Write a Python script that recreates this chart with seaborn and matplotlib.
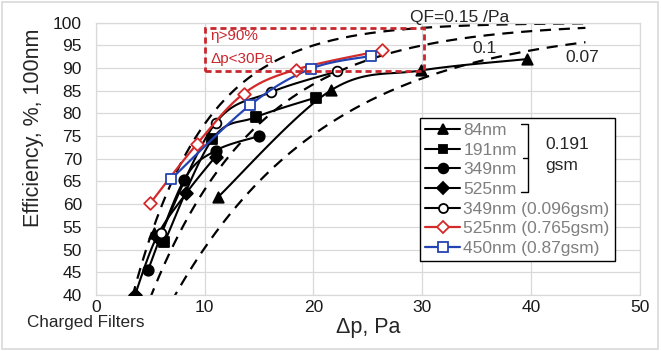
import numpy as np
import matplotlib
matplotlib.use("Agg")
import matplotlib.pyplot as plt
import seaborn as sns
from matplotlib.lines import Line2D
from matplotlib.patches import Rectangle

# iso-quality-factor lines, QF = -ln(1 - eff) / dp
qf_values = [0.15, 0.1, 0.07]
qf_labels = ["QF=0.15 /Pa", "0.1", "0.07"]
qf_dp_max = 45

# measured filters, dp in Pa, efficiency in %
dp_84 = [5.3, np.nan, 11.2, 21.6, 29.9, 39.6]
eff_84 = [53.6, np.nan, 61.5, 85.1, 89.5, 92.0]

dp_191 = [6.3, 10.7, 14.7, 20.2]
eff_191 = [51.6, 74.3, 79.2, 83.5]

dp_349 = [4.8, 8.1, 11.0, 15.0]
eff_349 = [45.5, 65.3, 71.8, 75.0]

dp_525 = [3.6, 5.6, 8.3, 11.0]
eff_525 = [40.0, 52.8, 62.4, 70.5]

dp_349b = [6.0, 11.0, 16.1, 22.2]
eff_349b = [53.6, 77.9, 84.7, 89.3]

dp_525b = [5.0, 9.3, 13.6, 18.4, 26.3]
eff_525b = [60.2, 73.3, 84.4, 89.7, 93.9]

dp_450 = [6.9, 14.2, 19.8, 25.3]
eff_450 = [65.5, 81.9, 89.9, 92.7]

series_names = ["84nm", "191nm", "349nm", "525nm",
                "349nm (0.096gsm)", "525nm (0.765gsm)", "450nm (0.87gsm)"]

RED = "#d42a2a"
BLUE = "#2443b3"
styles = [
    (dp_84, eff_84, "black", "^", 7.5, True),
    (dp_191, eff_191, "black", "s", 6.5, True),
    (dp_349, eff_349, "black", "o", 7.5, True),
    (dp_525, eff_525, "black", "D", 6.5, True),
    (dp_349b, eff_349b, "black", "o", 7, False),
    (dp_525b, eff_525b, RED, "D", 6.5, False),
    (dp_450, eff_450, BLUE, "s", 7, False),
]


def smooth(x, y, n=24):
    # excel style smoothed line, one array pair per unbroken run
    x = np.asarray(x, float)
    y = np.asarray(y, float)
    runs, cur = [], []
    for xi, yi in zip(x, y):
        if np.isnan(xi):
            if cur:
                runs.append(cur)
            cur = []
        else:
            cur.append(np.array([xi, yi]))
    if cur:
        runs.append(cur)
    out = []
    t = np.linspace(0, 1, n)[:, None]
    for P in runs:
        if len(P) < 2:
            continue
        pts = []
        for i in range(len(P) - 1):
            p0 = P[i - 1] if i > 0 else P[i]
            p1, p2 = P[i], P[i + 1]
            p3 = P[i + 2] if i + 2 < len(P) else P[i + 1]
            c1 = p1 + (p2 - p0) / 6
            c2 = p2 - (p3 - p1) / 6
            b = ((1 - t) ** 3 * p1 + 3 * (1 - t) ** 2 * t * c1
                 + 3 * (1 - t) * t ** 2 * c2 + t ** 3 * p2)
            pts.append(b)
        pts = np.vstack(pts)
        out.append((pts[:, 0], pts[:, 1]))
    return out


sns.set_theme(style="white")
plt.rcParams["font.family"] = ["Liberation Sans", "DejaVu Sans"]

fig, ax = plt.subplots(figsize=(6.61, 3.51), dpi=100)
fig.subplots_adjust(left=0.145, right=0.968, bottom=0.16, top=0.935)

# QF dashed curves
dp_grid = np.linspace(0.5, qf_dp_max, 300)
for qf in qf_values:
    eff_curve = 100 * (1 - np.exp(-qf * dp_grid))
    sns.lineplot(x=dp_grid, y=eff_curve, ax=ax, color="black", lw=1.6,
                 sort=False, estimator=None, zorder=2,
                 dashes=False, linestyle=(0, (5, 3.5)))

handles = []
for (xs, ys, c, m, ms, filled), name in zip(styles, series_names):
    lw = 1.6 if c != "black" else 1.5
    z = 4 if c != "black" else 3
    for sx, sy in smooth(xs, ys):
        sns.lineplot(x=sx, y=sy, ax=ax, color=c, lw=lw, sort=False,
                     estimator=None, zorder=z)
    fc = c if filled else "white"
    sns.scatterplot(x=xs, y=ys, ax=ax, marker=m, s=ms ** 2, color=fc,
                    edgecolor=c, linewidth=1.3, zorder=z + 0.5)
    handles.append(Line2D([], [], color=c, lw=lw, marker=m, ms=ms - 0.5,
                          mfc=fc, mec=c, mew=1.3))

# target region box
ax.add_patch(Rectangle((10, 89.3), 20.2, 9.5, fill=False, edgecolor="#c8282d",
                       lw=2, linestyle=(0, (2.2, 1.4)), zorder=5, clip_on=False))
ax.text(10.5, 97.0, "η>90%", color="#c8282d", fontsize=11, va="center", ha="left")
ax.text(10.5, 92.0, "Δp<30Pa", color="#c8282d", fontsize=11, va="center", ha="left")

# QF labels
ax.text(33.4, 101.2, qf_labels[0], fontsize=12.5, ha="center", va="center", clip_on=False)
ax.text(35.7, 94.4, qf_labels[1], fontsize=12.5, ha="center", va="center")
ax.text(44.7, 92.3, qf_labels[2], fontsize=12.5, ha="center", va="center")

ax.set_xlim(0, 50)
ax.set_ylim(40, 100)
ax.set_xticks(np.arange(0, 51, 10))
ax.set_yticks(np.arange(40, 101, 5))
ax.grid(True, color="#d9d9d9", lw=0.9)
for sp in ax.spines.values():
    sp.set_color("#d9d9d9")
    sp.set_linewidth(0.9)
ax.tick_params(axis="both", length=0, labelsize=12.5, labelcolor="#1a1a1a")
ax.tick_params(axis="x", pad=4)
ax.tick_params(axis="y", pad=10)

ax.set_xlabel("Δp, Pa", fontsize=15.5)
ax.set_ylabel("Efficiency, %, 100nm", fontsize=15.5)
ax.xaxis.set_label_coords(0.5, -0.08)
ax.yaxis.set_label_coords(-0.095, 0.614)

leg = ax.legend(handles, series_names, loc="upper left", bbox_to_anchor=(0.596, 0.651),
                borderaxespad=0, fontsize=12.5, labelspacing=0.26, handlelength=2.0,
                handletextpad=0.2, borderpad=0.3, frameon=True, fancybox=False,
                framealpha=1, edgecolor="black")
leg.get_frame().set_linewidth(1.0)
for txt in leg.get_texts():
    txt.set_color("#7f7f7f")
leg.set_zorder(6)

# bracket for the 0.191 gsm group
bx, btop, bbot, bmid = 0.794, 0.629, 0.379, 0.504
ax.plot([bx - 0.012, bx, bx, bx - 0.012], [btop, btop, bbot, bbot], transform=ax.transAxes,
        color="black", lw=1.0, zorder=7, clip_on=False)
ax.plot([bx - 0.008, bx], [bmid, bmid], transform=ax.transAxes, color="black", lw=1.0,
        zorder=7, clip_on=False)
ax.text(0.827, 0.551, "0.191", transform=ax.transAxes, fontsize=12.5, va="center",
        ha="left", zorder=7)
ax.text(0.827, 0.474, "gsm", transform=ax.transAxes, fontsize=12.5, va="center",
        ha="left", zorder=7)

fig.text(27 / 661, 1 - 322 / 351, "Charged Filters", fontsize=12.3, va="center", ha="left")
fig.patches.append(Rectangle((0.003, 0.006), 0.993, 0.988, transform=fig.transFigure,
                             fill=False, edgecolor="#d9d9d9", lw=1.2))

fig.savefig("out.png", dpi=100)
